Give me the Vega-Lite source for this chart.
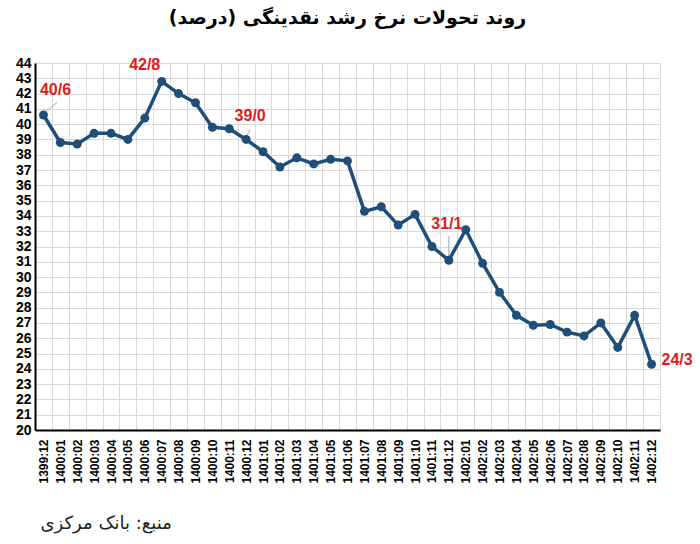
{
  "$schema": "https://vega.github.io/schema/vega-lite/v6.json",
  "width": 625,
  "height": 367,
  "autosize": {"type": "none"},
  "padding": {"left": 35, "top": 63, "right": 40, "bottom": 114},
  "background": "white",
  "config": {
    "view": {"stroke": "#d9d9d9", "strokeWidth": 1},
    "title": {"fontSize": 19, "font": "DejaVu Sans", "fontWeight": "bold", "color": "black"}
  },
  "title": {"text": "روند تحولات نرخ رشد نقدینگی (درصد)", "anchor": "middle", "offset": 28},
  "data": {
    "values": [
      {"month": "1399:12", "rate": 40.6, "label": "40/6"},
      {"month": "1400:01", "rate": 38.8},
      {"month": "1400:02", "rate": 38.7},
      {"month": "1400:03", "rate": 39.4},
      {"month": "1400:04", "rate": 39.4},
      {"month": "1400:05", "rate": 39.0},
      {"month": "1400:06", "rate": 40.4},
      {"month": "1400:07", "rate": 42.8, "label": "42/8"},
      {"month": "1400:08", "rate": 42.0},
      {"month": "1400:09", "rate": 41.4},
      {"month": "1400:10", "rate": 39.8},
      {"month": "1400:11", "rate": 39.7},
      {"month": "1400:12", "rate": 39.0, "label": "39/0"},
      {"month": "1401:01", "rate": 38.2},
      {"month": "1401:02", "rate": 37.2},
      {"month": "1401:03", "rate": 37.8},
      {"month": "1401:04", "rate": 37.4},
      {"month": "1401:05", "rate": 37.7},
      {"month": "1401:06", "rate": 37.6},
      {"month": "1401:07", "rate": 34.3},
      {"month": "1401:08", "rate": 34.6},
      {"month": "1401:09", "rate": 33.4},
      {"month": "1401:10", "rate": 34.1},
      {"month": "1401:11", "rate": 32.0},
      {"month": "1401:12", "rate": 31.1, "label": "31/1"},
      {"month": "1402:01", "rate": 33.1},
      {"month": "1402:02", "rate": 30.9},
      {"month": "1402:03", "rate": 29.0},
      {"month": "1402:04", "rate": 27.5},
      {"month": "1402:05", "rate": 26.85},
      {"month": "1402:06", "rate": 26.9},
      {"month": "1402:07", "rate": 26.4},
      {"month": "1402:08", "rate": 26.15},
      {"month": "1402:09", "rate": 27.0},
      {"month": "1402:10", "rate": 25.4},
      {"month": "1402:11", "rate": 27.5},
      {"month": "1402:12", "rate": 24.3, "label": "24/3"}
    ]
  },
  "encoding": {
    "x": {
      "field": "month",
      "type": "ordinal",
      "sort": "ascending",
      "scale": {"type": "band", "paddingInner": 0, "paddingOuter": 0},
      "axis": {
        "title": "منبع: بانک مرکزی",
        "titleFont": "DejaVu Sans",
        "titleFontSize": 18,
        "titleFontWeight": "normal",
        "titleColor": "#222",
        "titleAnchor": "start",
        "titleAlign": "left",
        "titleBaseline": "middle",
        "titleX": 5,
        "titleY": 93,
        "labelAngle": -90,
        "labelFont": "Liberation Sans",
        "labelFontSize": 12,
        "labelFontWeight": "bold",
        "labelColor": "black",
        "labelPadding": 9,
        "ticks": false,
        "tickBand": "extent",
        "grid": true,
        "gridColor": "#d9d9d9",
        "gridWidth": 1,
        "domainColor": "black",
        "domainWidth": 2
      }
    },
    "y": {
      "field": "rate",
      "type": "quantitative",
      "scale": {"domain": [20, 44], "nice": false, "zero": false},
      "axis": {
        "title": null,
        "values": [20, 21, 22, 23, 24, 25, 26, 27, 28, 29, 30, 31, 32, 33, 34, 35, 36, 37, 38, 39, 40, 41, 42, 43, 44],
        "labelFont": "Liberation Sans",
        "labelFontSize": 14,
        "labelFontWeight": "bold",
        "labelColor": "black",
        "labelPadding": 4,
        "ticks": false,
        "grid": true,
        "gridColor": "#d9d9d9",
        "gridWidth": 1,
        "domainColor": "black",
        "domainWidth": 2
      }
    }
  },
  "layer": [
    {
      "transform": [{"filter": "datum.month == '1399:12'"}],
      "mark": {"type": "rule", "color": "#a6a6a6", "strokeWidth": 1, "xOffset": 2, "yOffset": -3, "x2Offset": 14, "y2Offset": -13},
      "encoding": {"x2": {"field": "month"}, "y2": {"field": "rate"}}
    },
    {
      "transform": [{"filter": "datum.month == '1400:12'"}],
      "mark": {"type": "rule", "color": "#a6a6a6", "strokeWidth": 1, "xOffset": 0, "yOffset": -2, "x2Offset": 4, "y2Offset": -10},
      "encoding": {"x2": {"field": "month"}, "y2": {"field": "rate"}}
    },
    {
      "transform": [{"filter": "datum.month == '1401:12'"}],
      "mark": {"type": "rule", "color": "#a6a6a6", "strokeWidth": 1, "xOffset": 0, "yOffset": -3, "x2Offset": 0, "y2Offset": -24},
      "encoding": {"x2": {"field": "month"}, "y2": {"field": "rate"}}
    },
    {
      "mark": {"type": "line", "color": "#1f4e79", "strokeWidth": 3.5},
      "encoding": {}
    },
    {
      "mark": {"type": "point", "filled": true, "opacity": 1, "color": "#1f4e79", "size": 80},
      "encoding": {}
    },
    {
      "transform": [{"filter": "datum.month == '1399:12'"}],
      "mark": {"type": "text", "color": "#e01b1b", "font": "Liberation Sans", "fontSize": 16, "fontWeight": "bold", "dx": 12, "dy": -25, "baseline": "middle"},
      "encoding": {"text": {"field": "label"}}
    },
    {
      "transform": [{"filter": "datum.month == '1400:07'"}],
      "mark": {"type": "text", "color": "#e01b1b", "font": "Liberation Sans", "fontSize": 16, "fontWeight": "bold", "dx": -17, "dy": -16, "baseline": "middle"},
      "encoding": {"text": {"field": "label"}}
    },
    {
      "transform": [{"filter": "datum.month == '1400:12'"}],
      "mark": {"type": "text", "color": "#e01b1b", "font": "Liberation Sans", "fontSize": 16, "fontWeight": "bold", "dx": 4, "dy": -23, "baseline": "middle"},
      "encoding": {"text": {"field": "label"}}
    },
    {
      "transform": [{"filter": "datum.month == '1401:12'"}],
      "mark": {"type": "text", "color": "#e01b1b", "font": "Liberation Sans", "fontSize": 16, "fontWeight": "bold", "dx": -2, "dy": -36, "baseline": "middle"},
      "encoding": {"text": {"field": "label"}}
    },
    {
      "transform": [{"filter": "datum.month == '1402:12'"}],
      "mark": {"type": "text", "color": "#e01b1b", "font": "Liberation Sans", "fontSize": 16, "fontWeight": "bold", "dx": 10, "dy": -4, "align": "left", "baseline": "middle"},
      "encoding": {"text": {"field": "label"}}
    }
  ]
}
